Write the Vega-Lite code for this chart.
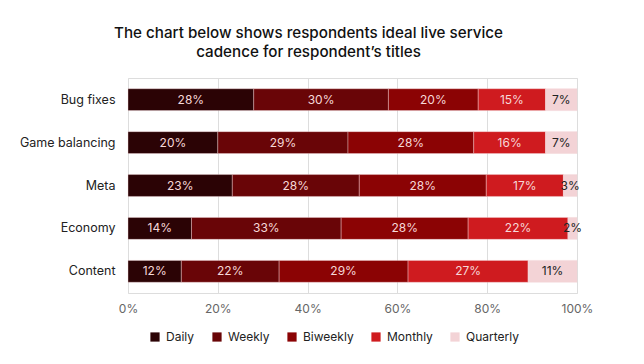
{
  "$schema": "https://vega.github.io/schema/vega-lite/v6.json",
  "width": 449,
  "height": 215,
  "autosize": {"type": "none"},
  "padding": {"left": 128, "top": 78, "right": 67, "bottom": 71},
  "background": "white",
  "title": {
    "text": ["The chart below shows respondents ideal live service", "cadence for respondent’s titles"],
    "font": "Inter",
    "fontSize": 15.2,
    "fontWeight": 500,
    "color": "#111111",
    "anchor": "middle",
    "frame": "group",
    "dx": -44,
    "offset": 18,
    "lineHeight": 19
  },
  "data": {
    "values": [
      {"task": "Bug fixes", "freq": "Daily", "ord": 1, "value": 0.28},
      {"task": "Bug fixes", "freq": "Weekly", "ord": 2, "value": 0.30},
      {"task": "Bug fixes", "freq": "Biweekly", "ord": 3, "value": 0.20},
      {"task": "Bug fixes", "freq": "Monthly", "ord": 4, "value": 0.15},
      {"task": "Bug fixes", "freq": "Quarterly", "ord": 5, "value": 0.07},
      {"task": "Game balancing", "freq": "Daily", "ord": 1, "value": 0.20},
      {"task": "Game balancing", "freq": "Weekly", "ord": 2, "value": 0.29},
      {"task": "Game balancing", "freq": "Biweekly", "ord": 3, "value": 0.28},
      {"task": "Game balancing", "freq": "Monthly", "ord": 4, "value": 0.16},
      {"task": "Game balancing", "freq": "Quarterly", "ord": 5, "value": 0.07},
      {"task": "Meta", "freq": "Daily", "ord": 1, "value": 0.23},
      {"task": "Meta", "freq": "Weekly", "ord": 2, "value": 0.28},
      {"task": "Meta", "freq": "Biweekly", "ord": 3, "value": 0.28},
      {"task": "Meta", "freq": "Monthly", "ord": 4, "value": 0.17},
      {"task": "Meta", "freq": "Quarterly", "ord": 5, "value": 0.03},
      {"task": "Economy", "freq": "Daily", "ord": 1, "value": 0.14},
      {"task": "Economy", "freq": "Weekly", "ord": 2, "value": 0.33},
      {"task": "Economy", "freq": "Biweekly", "ord": 3, "value": 0.28},
      {"task": "Economy", "freq": "Monthly", "ord": 4, "value": 0.22},
      {"task": "Economy", "freq": "Quarterly", "ord": 5, "value": 0.02},
      {"task": "Content", "freq": "Daily", "ord": 1, "value": 0.12},
      {"task": "Content", "freq": "Weekly", "ord": 2, "value": 0.22},
      {"task": "Content", "freq": "Biweekly", "ord": 3, "value": 0.29},
      {"task": "Content", "freq": "Monthly", "ord": 4, "value": 0.27},
      {"task": "Content", "freq": "Quarterly", "ord": 5, "value": 0.11}
    ]
  },
  "encoding": {
    "y": {
      "field": "task",
      "type": "nominal",
      "sort": null,
      "title": null,
      "scale": {"paddingInner": 0.49, "paddingOuter": 0.25},
      "axis": {"domain": false, "ticks": false, "labelFont": "Inter", "labelFontSize": 12.5, "labelColor": "#222222", "labelPadding": 13, "grid": false}
    }
  },
  "layer": [
    {
      "mark": {"type": "bar", "stroke": "#f3d3d6", "strokeWidth": 0.4},
      "encoding": {
        "x": {
          "field": "value",
          "type": "quantitative",
          "stack": "normalize",
          "scale": {"domain": [0, 1], "nice": false},
          "title": null,
          "axis": {"format": "%", "values": [0, 0.2, 0.4, 0.6, 0.8, 1], "domain": false, "ticks": false, "labelFlush": false, "labelFont": "Inter", "labelFontSize": 12, "labelColor": "#666666", "labelPadding": 10, "grid": true, "gridColor": "#dddddd", "gridWidth": 1}
        },
        "color": {
          "field": "freq",
          "type": "nominal",
          "sort": ["Daily", "Weekly", "Biweekly", "Monthly", "Quarterly"],
          "scale": {"domain": ["Daily", "Weekly", "Biweekly", "Monthly", "Quarterly"], "range": ["#2b0305", "#690507", "#8b0304", "#cf1b1f", "#f3d3d6"]},
          "legend": {
            "title": null,
            "orient": "none",
            "direction": "horizontal",
            "legendX": 20,
            "legendY": 253,
            "symbolType": "square",
            "symbolSize": 85,
            "symbolStrokeWidth": 0,
            "symbolOffset": 1,
            "labelFont": "Inter",
            "labelFontSize": 12,
            "labelColor": "#222222",
            "columnPadding": 15,
            "labelOffset": 5
          }
        },
        "order": {"field": "ord"}
      }
    },
    {
      "mark": {"type": "text", "font": "Inter", "fontSize": 12, "baseline": "middle", "align": "center"},
      "encoding": {
        "x": {"field": "value", "type": "quantitative", "stack": "normalize", "bandPosition": 0.5},
        "order": {"field": "ord"},
        "detail": {"field": "freq"},
        "text": {"field": "value", "type": "quantitative", "format": ".0%"},
        "color": {
          "condition": {"test": "datum.freq === 'Quarterly'", "value": "#222222"},
          "value": "#f6d8d8"
        }
      }
    }
  ]
}
